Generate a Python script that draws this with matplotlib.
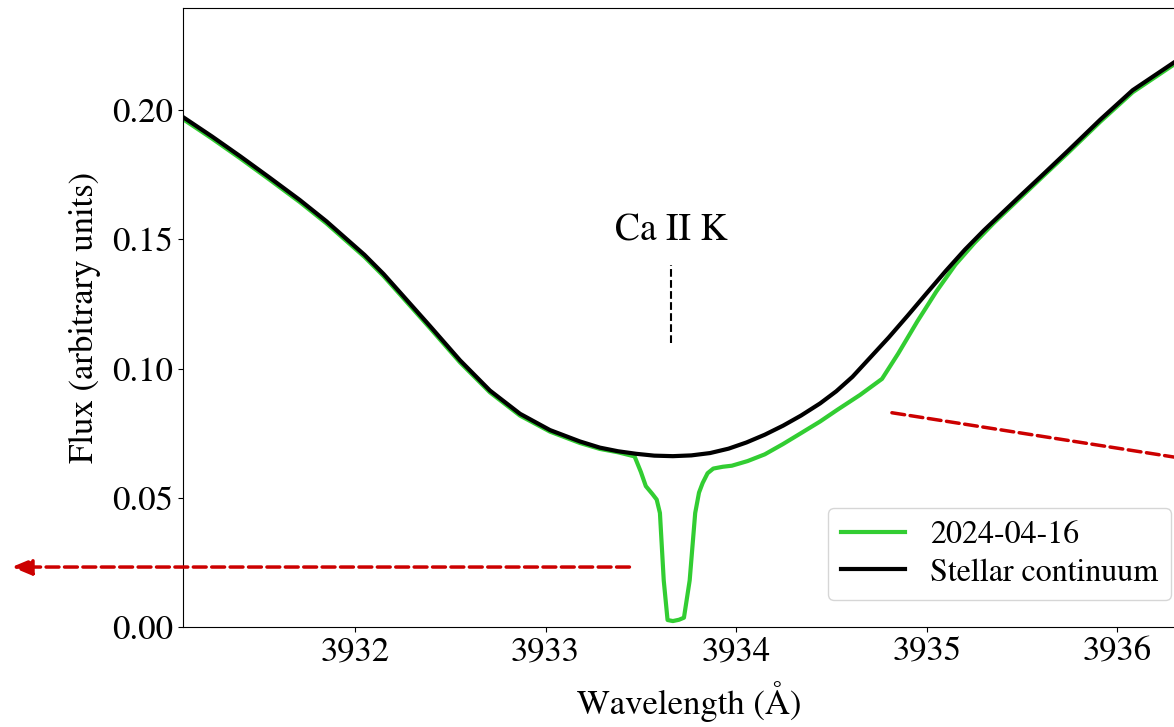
import matplotlib.pyplot as plt

# Ca II K region
wl_cont = [3931.098, 3931.25, 3931.397, 3931.55, 3931.711, 3931.85, 3931.95,
           3932.05, 3932.15, 3932.236, 3932.393, 3932.551, 3932.708, 3932.866,
           3933.023, 3933.18, 3933.285, 3933.38, 3933.477, 3933.57, 3933.668,
           3933.765, 3933.863, 3933.96, 3934.054, 3934.15, 3934.246, 3934.34,
           3934.44, 3934.525, 3934.61, 3934.7, 3934.8, 3934.9, 3935.0, 3935.1,
           3935.2, 3935.3, 3935.4, 3935.49, 3935.62, 3935.74, 3935.91, 3936.08,
           3936.30, 3936.45]
flux_cont = [0.1973, 0.1898, 0.1822, 0.1740, 0.1652, 0.1570, 0.1505,
             0.1440, 0.1366, 0.1295, 0.1165, 0.1032, 0.0915, 0.0825,
             0.0762, 0.0718, 0.0694, 0.0680, 0.0670, 0.0663, 0.0661,
             0.0664, 0.0673, 0.0690, 0.0714, 0.0744, 0.0779, 0.0818,
             0.0865, 0.0912, 0.0968, 0.1040, 0.1120, 0.1205, 0.1292, 0.1378,
             0.1460, 0.1535, 0.1605, 0.1668, 0.1758, 0.1842, 0.1963, 0.2077,
             0.2186, 0.2250]

wl_obs = [3931.098, 3931.25, 3931.397, 3931.55, 3931.711, 3931.85, 3931.95,
          3932.05, 3932.15, 3932.236, 3932.393, 3932.551, 3932.708, 3932.866,
          3933.023, 3933.18, 3933.285, 3933.38, 3933.467, 3933.50, 3933.526,
          3933.56, 3933.583, 3933.60, 3933.62, 3933.64, 3933.668, 3933.70,
          3933.726, 3933.756, 3933.785, 3933.805, 3933.824, 3933.85, 3933.88,
          3933.93, 3933.977, 3934.06, 3934.15, 3934.246, 3934.34, 3934.44,
          3934.53, 3934.65, 3934.765, 3934.85, 3934.95, 3935.05, 3935.15,
          3935.25, 3935.35, 3935.49, 3935.62, 3935.74, 3935.91, 3936.08,
          3936.30, 3936.45]
flux_obs = [0.1965, 0.1890, 0.1814, 0.1732, 0.1644, 0.1562, 0.1497,
            0.1432, 0.1358, 0.1287, 0.1157, 0.1024, 0.0908, 0.0818,
            0.0756, 0.0712, 0.0689, 0.0676, 0.0660, 0.0600, 0.0545,
            0.0515, 0.0493, 0.0441, 0.0180, 0.0027, 0.0023, 0.0028,
            0.0036, 0.0180, 0.0441, 0.0520, 0.0557, 0.0595, 0.0613,
            0.0620, 0.0624, 0.0642, 0.0668, 0.0708, 0.0750, 0.0795,
            0.0840, 0.0898, 0.0960, 0.1058, 0.1182, 0.1298, 0.1402,
            0.1486, 0.1562, 0.1660, 0.1751, 0.1834, 0.1955, 0.2069,
            0.2178, 0.2242]

line_wl = 3933.66
line_name = 'Ca II K'
obs_label = '2024-04-16'
cont_label = 'Stellar continuum'

plt.rcParams['font.family'] = ['STIXGeneral', 'Liberation Serif', 'DejaVu Serif']
plt.rcParams['mathtext.fontset'] = 'stix'

fig = plt.figure(figsize=(11.74, 7.27), dpi=100)
# right edge of the axes lies past the figure (the reference is cropped)
ax = fig.add_axes([183 / 1174, 100 / 727, 1012 / 1174, 619 / 727])

ax.plot(wl_obs, flux_obs, color='limegreen', lw=3, label=obs_label)
ax.plot(wl_cont, flux_cont, color='black', lw=3, label=cont_label)

# line marker
ax.plot([line_wl, line_wl], [0.110, 0.140], color='black', lw=1.5, ls='--')
ax.text(line_wl, 0.1497, line_name, ha='center', va='baseline', fontsize=27)

# red dashed arrows
arrow_style = '-|>,head_length=1.2,head_width=0.5'
ax.annotate('', xy=(3930.20, 0.0232), xytext=(3933.44, 0.0232),
            xycoords='data', textcoords='data', annotation_clip=False,
            arrowprops=dict(arrowstyle=arrow_style, color='#cc0000', lw=2.5,
                            ls='--', shrinkA=0, shrinkB=0))
ax.annotate('', xy=(3936.75, 0.0605), xytext=(3934.817, 0.0829),
            xycoords='data', textcoords='data', annotation_clip=False,
            arrowprops=dict(arrowstyle=arrow_style, color='#cc0000', lw=2.5,
                            ls='--', shrinkA=0, shrinkB=0))

ax.set_xlim(3931.098, 3936.407)
ax.set_ylim(0, 0.2395)
ax.set_xticks([3932, 3933, 3934, 3935, 3936])
ax.set_yticks([0.0, 0.05, 0.10, 0.15, 0.20])
ax.set_yticklabels(['0.00', '0.05', '0.10', '0.15', '0.20'])
ax.tick_params(labelsize=25)
ax.set_xlabel('Wavelength (Å)', fontsize=25, labelpad=9)
ax.set_ylabel('Flux (arbitrary units)', fontsize=25, labelpad=8)

ax.legend(loc='upper left', bbox_to_anchor=(645 / 1012, 119 / 619),
          borderaxespad=0, fontsize=23, labelspacing=0.25)

plt.savefig('out.png', dpi=100)
plt.close()
